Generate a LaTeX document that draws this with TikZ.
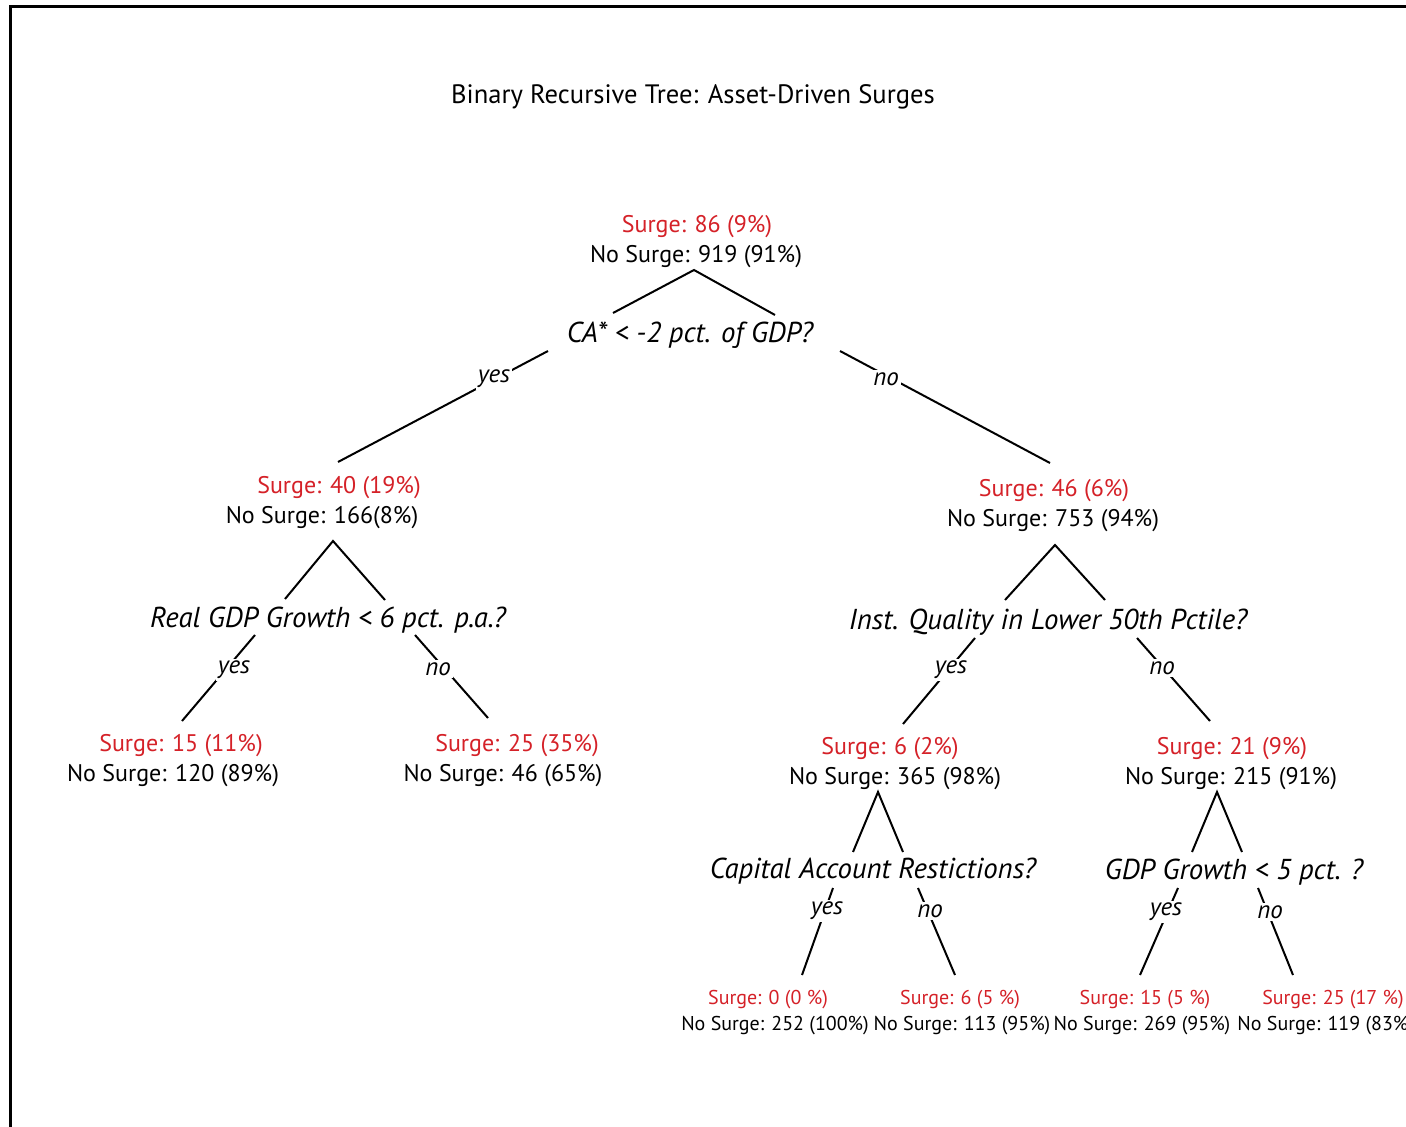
\documentclass[tikz,border=0pt]{standalone}
\usepackage{fontspec}
\setmainfont{PT Sans}
\definecolor{surgered}{RGB}{213,33,40}
\begin{document}
\begin{tikzpicture}[x=0.5pt,y=-0.5pt,
  txt/.style={inner sep=0pt,yshift=-1pt},
  surge/.style={txt,text=surgered,font=\fontsize{12}{14}\selectfont},
  nosurge/.style={txt,text=black,font=\fontsize{12}{14}\selectfont},
  lsurge/.style={txt,text=surgered,font=\fontsize{10}{12}\selectfont},
  lnosurge/.style={txt,text=black,font=\fontsize{10}{12}\selectfont},
  question/.style={txt,font=\fontsize{14.4}{17}\selectfont\itshape},
  answer/.style={font=\fontsize{12.5}{14}\selectfont\itshape,fill=white,inner sep=1pt,yshift=-1pt},
  branch/.style={line width=1pt},
  titlestyle/.style={txt,font=\fontsize{13.3}{16}\selectfont}]
\useasboundingbox (0,0) rectangle (1406,1127);
\clip (0,0) rectangle (1406,1127);
\fill[white] (0,0) rectangle (1406,1127);
\draw[line width=1.5pt] (10,1127) -- (10,7) -- (1406,7);

\node[titlestyle] (title) at (693,95) {Binary Recursive Tree: Asset-Driven Surges};

% root
\node[surge] (rs) at (697,225) {Surge: 86 (9\%)};
\node[nosurge] (rn) at (696,255) {No Surge: 919 (91\%)};
\node[question] (q1) at (690,333) {CA* < -2 pct. of GDP?};
% level 2
\node[surge] (as) at (339,486) {Surge: 40 (19\%)};
\node[nosurge] (an) at (322,516) {No Surge: 166(8\%)};
\node[surge] (bs) at (1054,489) {Surge: 46 (6\%)};
\node[nosurge] (bn) at (1053,519) {No Surge: 753 (94\%)};
\node[question] (q2) at (328,618) {Real GDP Growth < 6 pct. p.a.?};
\node[question] (q3) at (1048,620) {Inst. Quality in Lower 50th Pctile?};
% level 3
\node[surge] (cs) at (181,744) {Surge: 15 (11\%)};
\node[nosurge] (cn) at (173,774) {No Surge: 120 (89\%)};
\node[surge] (ds) at (517,744) {Surge: 25 (35\%)};
\node[nosurge] (dn) at (503,774) {No Surge: 46 (65\%)};
\node[surge] (es) at (890,747) {Surge: 6 (2\%)};
\node[nosurge] (en) at (895,777) {No Surge: 365 (98\%)};
\node[surge] (fs) at (1232,747) {Surge: 21 (9\%)};
\node[nosurge] (fn) at (1231,777) {No Surge: 215 (91\%)};
\node[question] (q4) at (873,869) {Capital Account Restictions?};
\node[question] (q5) at (1234,870) {GDP Growth < 5 pct. ?};
% leaves
\node[lsurge] (gs) at (768,998) {Surge: 0 (0 \%)};
\node[lnosurge] (gn) at (775,1024) {No Surge: 252 (100\%)};
\node[lsurge] (hs) at (960,998) {Surge: 6 (5 \%)};
\node[lnosurge] (hn) at (962,1024) {No Surge: 113 (95\%)};
\node[lsurge] (is) at (1145,998) {Surge: 15 (5 \%)};
\node[lnosurge] (in) at (1142,1024) {No Surge: 269 (95\%)};
\node[lsurge] (js) at (1333,998) {Surge: 25 (17 \%)};
\node[lnosurge,anchor=west] (jn) at (1237,1024) {No Surge: 119 (83\%};

% connector end points
\coordinate (r0) at (694,270); \coordinate (r1) at (613,313); \coordinate (r2) at (775,315);
\coordinate (q1y0) at (548,351); \coordinate (q1y1) at (338,462);
\coordinate (q1n0) at (840,351); \coordinate (q1n1) at (1050,463);
\coordinate (a0) at (333,541); \coordinate (a1) at (285,599); \coordinate (a2) at (385,600);
\coordinate (q2y0) at (255,635); \coordinate (q2y1) at (182,721);
\coordinate (q2n0) at (415,635); \coordinate (q2n1) at (488,718);
\coordinate (b0) at (1055,545); \coordinate (b1) at (1005,600); \coordinate (b2) at (1105,600);
\coordinate (q3y0) at (975,638); \coordinate (q3y1) at (903,724);
\coordinate (q3n0) at (1137,638); \coordinate (q3n1) at (1210,721);
\coordinate (e0) at (878,792); \coordinate (e1) at (853,852); \coordinate (e2) at (903,852);
\coordinate (f0) at (1217,792); \coordinate (f1) at (1192,852); \coordinate (f2) at (1242,852);
\coordinate (q4y0) at (833,888); \coordinate (q4y1) at (802,975);
\coordinate (q4n0) at (918,888); \coordinate (q4n1) at (955,975);
\coordinate (q5y0) at (1178,888); \coordinate (q5y1) at (1140,975);
\coordinate (q5n0) at (1258,888); \coordinate (q5n1) at (1293,975);

\draw[branch] (r1) -- (r0) -- (r2);
\draw[branch] (q1y0) -- (q1y1);
\draw[branch] (q1n0) -- (q1n1);
\draw[branch] (a1) -- (a0) -- (a2);
\draw[branch] (q2y0) -- (q2y1);
\draw[branch] (q2n0) -- (q2n1);
\draw[branch] (b1) -- (b0) -- (b2);
\draw[branch] (q3y0) -- (q3y1);
\draw[branch] (q3n0) -- (q3n1);
\draw[branch] (e1) -- (e0) -- (e2);
\draw[branch] (f1) -- (f0) -- (f2);
\draw[branch] (q4y0) -- (q4y1);
\draw[branch] (q4n0) -- (q4n1);
\draw[branch] (q5y0) -- (q5y1);
\draw[branch] (q5n0) -- (q5n1);

% answers
\node[answer] (l1y) at (494,377) {yes};
\node[answer] (l1n) at (886,377) {no};
\node[answer] (l2y) at (234,668) {yes};
\node[answer] (l2n) at (438,667) {no};
\node[answer] (l3y) at (951,668) {yes};
\node[answer] (l3n) at (1162,666) {no};
\node[answer] (l4y) at (827,909) {yes};
\node[answer] (l4n) at (930,909) {no};
\node[answer] (l5y) at (1166,910) {yes};
\node[answer] (l5n) at (1270,910) {no};
\end{tikzpicture}
\end{document}
